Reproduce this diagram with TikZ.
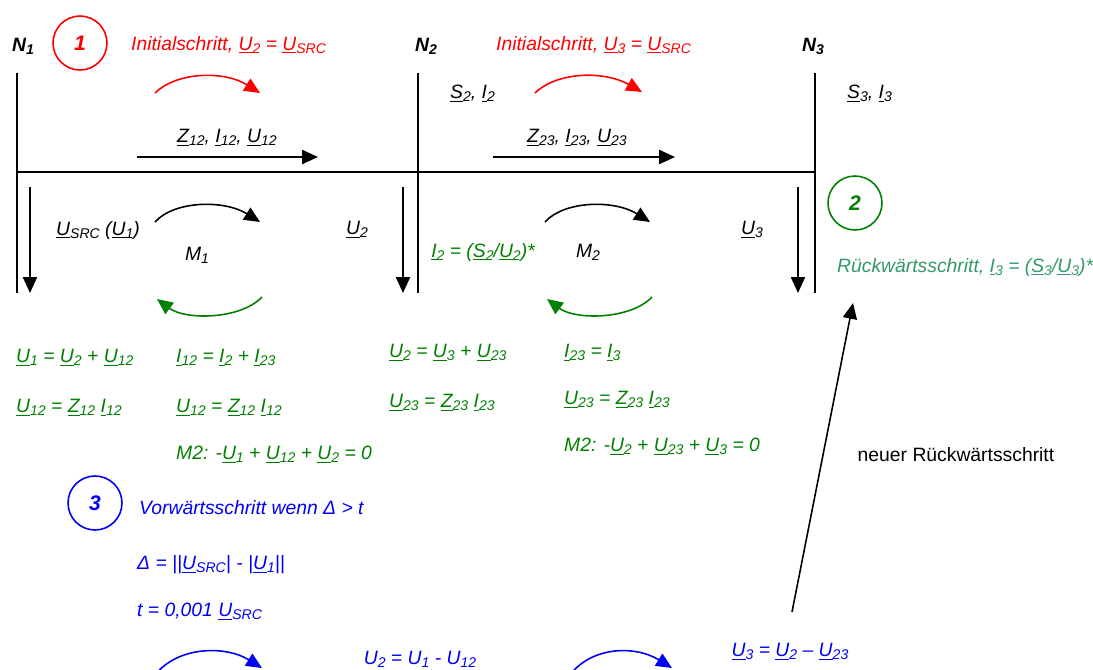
\documentclass[tikz,border=0pt]{standalone}
\usepackage{fontspec}
\setmainfont{Liberation Sans}
\usetikzlibrary{arrows.meta, positioning}
\definecolor{initred}{RGB}{255, 0, 0}
\definecolor{backgreen}{RGB}{0, 128, 0}
\definecolor{backlight}{RGB}{51, 153, 102}
\definecolor{fwdblue}{RGB}{0, 0, 245}
\newcommand{\sbs}[1]{\raisebox{-0.3ex}{\fontsize{8}{9}\selectfont #1}}
\newcommand{\cx}[1]{\underline{#1}}

\begin{document}
\begin{tikzpicture}[x=0.02cm, y=-0.02cm, font=\fontsize{11}{13}\selectfont\itshape,
    tip/.style={-{Triangle[length=9pt,width=8pt]}, line width=0.9pt},
    bus/.style={line width=1.5pt},
    busname/.style={font=\fontsize{11}{13}\selectfont\bfseries\itshape},
    stepnum/.style={draw, circle, line width=0.9pt, minimum size=1.08cm, inner sep=0pt,
                    font=\fontsize{12}{14}\selectfont\bfseries\itshape},
    eq/.style={anchor=west, backgreen}]
  \useasboundingbox (0,0) rectangle (1093,670);
  \clip (0,0) rectangle (1093,670);
  % Bus bars and line
  \coordinate (hl) at (0,172);
  \foreach \bx/\nm/\lx in {17/1/23, 418/2/426, 815/3/813}{
    \node[busname] (N\nm) at (\lx,46) {N\sbs{\nm}};
    \coordinate (bt\nm) at (\bx,73);
    \coordinate (bb\nm) at (\bx,293);
    \draw[bus] (bt\nm) -- (bb\nm);
  }
  \draw[line width=1.2pt] (bt1 |- hl) -- (bt3 |- hl);
  % Line quantities
  \node (z12) at (227,138) {\cx{Z}\sbs{12}, \cx{I}\sbs{12}, \cx{U}\sbs{12}};
  \node (z23) at (577,138) {\cx{Z}\sbs{23}, \cx{I}\sbs{23}, \cx{U}\sbs{23}};
  \draw[tip] (137,157) -- (318,157);
  \draw[tip] (493,157) -- (675,157);
  \node[anchor=west] (s2) at (444,94) {\cx{S}\sbs{2}, \cx{I}\sbs{2}};
  \node[anchor=west] (s3) at (841,94) {\cx{S}\sbs{3}, \cx{I}\sbs{3}};
  % Voltages and meshes
  \foreach \ax in {30, 403, 798}
    \draw[tip] (\ax,187) -- (\ax,293);
  \node (usrc) at (98,230) {\cx{U}\sbs{SRC} (\cx{U}\sbs{1})};
  \node (u2) at (357,230) {\cx{U}\sbs{2}};
  \node (u3) at (752,230) {\cx{U}\sbs{3}};
  \node (m1) at (197,255) {M\sbs{1}};
  \node (m2) at (588,252) {M\sbs{2}};
  \node[backgreen] (i2) at (483,252) {\cx{I}\sbs{2} = (\cx{S}\sbs{2}/\cx{U}\sbs{2})*};
  \foreach \sx in {0, 390}{
    \draw[tip] (155+\sx,222) .. controls (175+\sx,200) and (225+\sx,200) .. (260+\sx,222);
    \draw[tip, backgreen] (262+\sx,297) .. controls (240+\sx,320) and (185+\sx,320) .. (157+\sx,299);
  }
  % Step 1
  \node[stepnum, initred] (st1) at (80,43) {1};
  \node[anchor=west, initred] (init2) at (125,45) {Initialschritt, \cx{U}\sbs{2} = \cx{U}\sbs{SRC}};
  \node[anchor=west, initred] (init3) at (490,45) {Initialschritt, \cx{U}\sbs{3} = \cx{U}\sbs{SRC}};
  \draw[tip, initred] (155,93) .. controls (178,71) and (225,71) .. (260,93);
  \draw[tip, initred] (535,93) .. controls (558,71) and (605,71) .. (642,92);
  % Step 2
  \node[stepnum, backgreen] (st2) at (855,203) {2};
  \node[anchor=west, backlight] (back3) at (831,267) {Rückwärtsschritt, \cx{I}\sbs{3} = (\cx{S}\sbs{3}/\cx{U}\sbs{3})*};
  \node[eq] (e11) at (10,358) {\cx{U}\sbs{1} = \cx{U}\sbs{2} + \cx{U}\sbs{12}};
  \node[eq] (e12) at (10,408) {\cx{U}\sbs{12} = \cx{Z}\sbs{12} \cx{I}\sbs{12}};
  \node[eq] (e21) at (170,358) {\cx{I}\sbs{12} = \cx{I}\sbs{2} + \cx{I}\sbs{23}};
  \node[eq] (e22) at (170,408) {\cx{U}\sbs{12} = \cx{Z}\sbs{12} \cx{I}\sbs{12}};
  \node[eq] (e23) at (170,455) {M2: -\cx{U}\sbs{1} + \cx{U}\sbs{12} + \cx{U}\sbs{2} = 0};
  \node[eq] (e31) at (383,353) {\cx{U}\sbs{2} = \cx{U}\sbs{3} + \cx{U}\sbs{23}};
  \node[eq] (e32) at (383,403) {\cx{U}\sbs{23} = \cx{Z}\sbs{23} \cx{I}\sbs{23}};
  \node[eq] (e41) at (558,353) {\cx{I}\sbs{23} = \cx{I}\sbs{3}};
  \node[eq] (e42) at (558,400) {\cx{U}\sbs{23} = \cx{Z}\sbs{23} \cx{I}\sbs{23}};
  \node[eq] (e43) at (558,447) {M2: -\cx{U}\sbs{2} + \cx{U}\sbs{23} + \cx{U}\sbs{3} = 0};
  % Step 3
  \node[stepnum, fwdblue] (st3) at (95,503) {3};
  \node[anchor=west, fwdblue] (fwd) at (133,508) {Vorwärtsschritt wenn Δ > t};
  \node[anchor=west, fwdblue] (delta) at (131,565) {Δ = ||\cx{U}\sbs{SRC}| - |\cx{U}\sbs{1}||};
  \node[anchor=west, fwdblue] (tol) at (131,612) {t = 0,001 \cx{U}\sbs{SRC}};
  \node[fwdblue] (fu2) at (420,659) {U\sbs{2} = U\sbs{1} - U\sbs{12}};
  \node[fwdblue] (fu3) at (790,652) {\cx{U}\sbs{3} = \cx{U}\sbs{2} – \cx{U}\sbs{23}};
  \draw[tip, fwdblue] (150,682) .. controls (172,645) and (225,645) .. (262,668);
  \draw[tip, fwdblue] (565,682) .. controls (587,645) and (635,645) .. (672,668);
  % New backward step
  \coordinate (nbs) at (792,612);
  \coordinate (nbe) at (853,303);
  \draw[tip] (nbs) -- (nbe);
  \node[font=\fontsize{11}{13}\selectfont\upshape] (neu) at (956,455) {neuer Rückwärtsschritt};
\end{tikzpicture}
\end{document}
